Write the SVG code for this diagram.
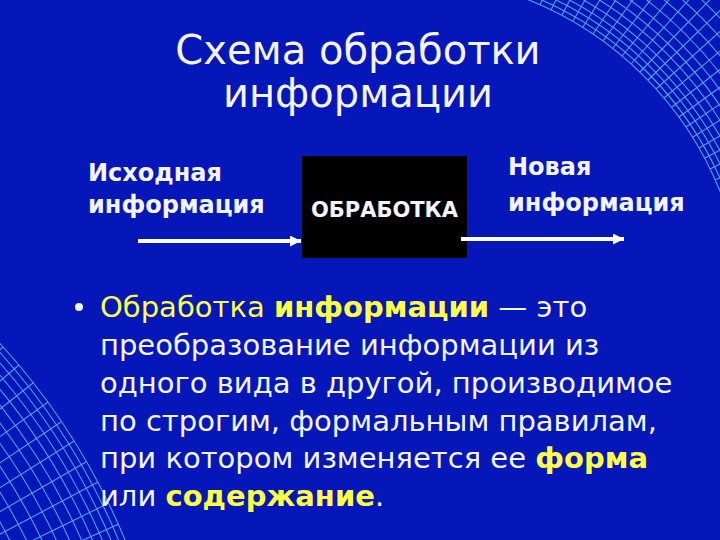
<svg xmlns="http://www.w3.org/2000/svg" width="720" height="540" viewBox="0 0 720 540">
<defs>
<style>
.t{font-family:"DejaVu Sans","Liberation Sans",sans-serif;fill:#f4f4ff}
.title{font-size:40px}
.lbl{font-size:24px;font-weight:bold}
.box{font-size:21px;font-weight:bold}
.body{font-size:29px}
.y{fill:#ffff44}
.b{font-weight:bold}
.mesh{fill:none;stroke:#5aaef5;stroke-width:1.1;opacity:0.9}
.conn{stroke:#ffffff;stroke-width:4;fill:none}
</style>
<marker id="ah" markerUnits="userSpaceOnUse" markerWidth="14" markerHeight="14" refX="11" refY="5.5" orient="auto">
<path d="M0,0 L11,5.5 L0,11 Z" fill="#ffffff"/>
</marker>
<clipPath id="clipR"><rect x="500" y="0" width="220" height="250"/></clipPath>
<clipPath id="clipL"><rect x="0" y="300" width="220" height="240"/></clipPath>
</defs>
<rect width="720" height="540" fill="#0517b8"/>
<g id="mesh-right" class="mesh" clip-path="url(#clipR)">
<circle cx="400" cy="320" r="345"/><circle cx="400" cy="320" r="350"/><circle cx="400" cy="320" r="356"/><circle cx="400" cy="320" r="362"/><circle cx="400" cy="320" r="369"/><circle cx="400" cy="320" r="377"/><circle cx="400" cy="320" r="385"/><circle cx="400" cy="320" r="394"/><circle cx="400" cy="320" r="404"/><circle cx="400" cy="320" r="415"/><circle cx="400" cy="320" r="427"/><circle cx="400" cy="320" r="440"/><circle cx="400" cy="320" r="454"/><circle cx="400" cy="320" r="469"/><circle cx="400" cy="320" r="485"/><circle cx="400" cy="320" r="502"/><circle cx="400" cy="320" r="520"/>
<path d="M507,-8 L647,-441 M518,-4 L674,-432 M529,0 L700,-422 M540,5 L726,-411 M551,10 L750,-399 M562,15 L775,-386 M573,21 L800,-373 M583,27 L824,-358 M593,34 L847,-343 M603,41 L870,-327 M613,48 L893,-310 M622,56 L914,-293 M631,64 L935,-274 M640,72 L956,-255 M648,80 L975,-236 M656,89 L994,-215 M664,98 L1013,-194 M672,107 L1030,-173 M679,117 L1047,-150 M686,127 L1063,-127 M693,137 L1078,-104 M699,148 L1093,-80 M705,158 L1106,-55 M710,169 L1119,-30 M715,180 L1131,-6 M720,191 L1142,20 M724,202 L1152,46"/>
</g>
<g id="mesh-left" class="mesh" clip-path="url(#clipL)">
<circle cx="-500" cy="800" r="677"/><circle cx="-500" cy="800" r="671"/><circle cx="-500" cy="800" r="664"/><circle cx="-500" cy="800" r="656"/><circle cx="-500" cy="800" r="647"/><circle cx="-500" cy="800" r="637"/><circle cx="-500" cy="800" r="626"/><circle cx="-500" cy="800" r="614"/><circle cx="-500" cy="800" r="601"/><circle cx="-500" cy="800" r="587"/><circle cx="-500" cy="800" r="572"/><circle cx="-500" cy="800" r="556"/><circle cx="-500" cy="800" r="539"/>
<path d="M-187,476 L-29,313 M-176,487 L-13,329 M-166,499 L3,347 M-155,511 L19,365 M-145,523 L33,383 M-136,535 L48,402 M-127,548 L61,422 M-118,562 L74,441 M-110,575 L86,462 M-103,589 L98,482 M-95,603 L109,503 M-89,617 L119,524 M-83,631 L128,546 M-77,646 L136,568"/>
</g>
<g id="title">
<text class="t title" x="358" y="64" text-anchor="middle">Схема обработки</text>
<text class="t title" x="358" y="107" text-anchor="middle">информации</text>
</g>
<g id="source">
<text class="t lbl" x="88" y="181">Исходная</text>
<text class="t lbl" x="88" y="213">информация</text>
</g>
<g id="process">
<rect x="302" y="156" width="165" height="102" fill="#000000"/>
<text class="t box" x="384.5" y="217" text-anchor="middle">ОБРАБОТКА</text>
</g>
<g id="result">
<text class="t lbl" x="508" y="175">Новая</text>
<text class="t lbl" x="508" y="211">информация</text>
</g>
<g id="connectors">
<line class="conn" x1="138" y1="241" x2="301" y2="241" marker-end="url(#ah)"/>
<line class="conn" x1="461" y1="239" x2="624" y2="239" marker-end="url(#ah)"/>
</g>
<g id="definition">
<circle cx="79" cy="307" r="4" fill="#f4f4ff"/>
<text class="t body" x="100" y="317"><tspan class="y">Обработка</tspan> <tspan class="y b">информации</tspan> — это</text>
<text class="t body" x="100" y="355">преобразование информации из</text>
<text class="t body" x="100" y="393">одного вида в другой, производимое</text>
<text class="t body" x="100" y="431">по строгим, формальным правилам,</text>
<text class="t body" x="100" y="468">при котором изменяется ее <tspan class="y b">форма</tspan></text>
<text class="t body" x="100" y="506">или <tspan class="y b">содержание</tspan>.</text>
</g>
</svg>
